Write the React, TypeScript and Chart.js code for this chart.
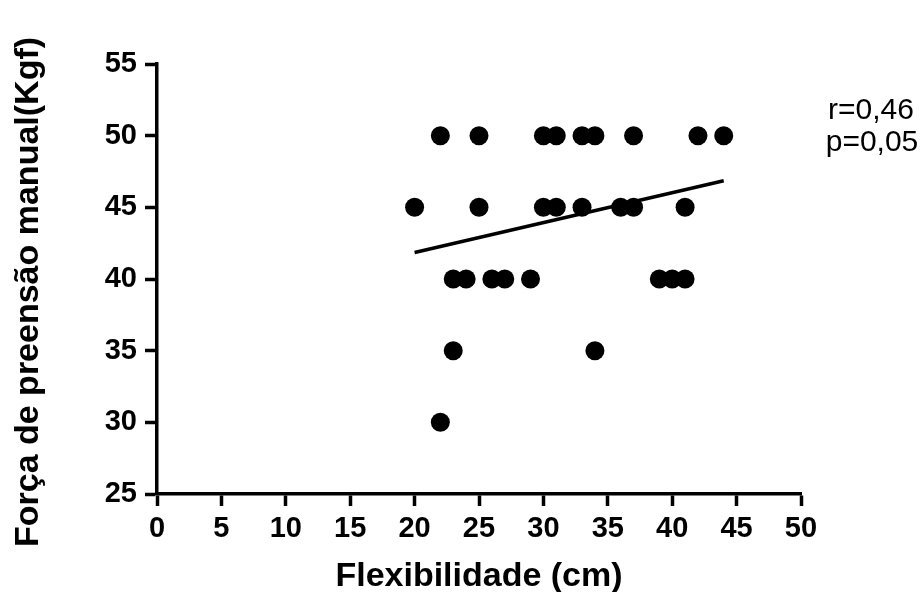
import { useEffect, useRef } from 'react';
import { Chart, registerables } from 'chart.js';

Chart.register(...registerables);

// Flexibility (cm) and hand-grip strength (Kgf) for each subject
const flexibility = [
  22, 25, 30, 31, 33, 34, 37, 42, 44,
  20, 25, 30, 31, 33, 36, 37, 41,
  23, 24, 26, 27, 29, 39, 40, 41,
  23, 34,
  22,
];
const gripStrength = [
  50, 50, 50, 50, 50, 50, 50, 50, 50,
  45, 45, 45, 45, 45, 45, 45, 45,
  40, 40, 40, 40, 40, 40, 40, 40,
  35, 35,
  30,
];

// Regression line end points
const trendX = [20, 44];
const trendY = [41.85, 46.85];

const xTickValues = [0, 5, 10, 15, 20, 25, 30, 35, 40, 45, 50];
const yTickValues = [25, 30, 35, 40, 45, 50, 55];

const xTitle = 'Flexibilidade (cm)';
const yTitle = 'Força de preensão manual(Kgf)';
const statsLines = ['r=0,46', 'p=0,05'];

const FONT = '"Liberation Sans", Arial, Helvetica, sans-serif';

export default function App() {
  const ref = useRef<HTMLCanvasElement | null>(null);

  useEffect(() => {
    if (!ref.current) return;

    const textPlugin = {
      id: 'textPlugin',
      afterDraw(chart: any) {
        const ctx = chart.ctx as CanvasRenderingContext2D;
        const area = chart.chartArea;
        ctx.save();
        ctx.fillStyle = '#000';
        // x title
        ctx.font = `bold 34px ${FONT}`;
        ctx.textAlign = 'center';
        ctx.textBaseline = 'alphabetic';
        ctx.fillText(xTitle, (area.left + area.right) / 2, 586);
        // y title
        ctx.save();
        ctx.translate(38, 292);
        ctx.rotate(-Math.PI / 2);
        ctx.fillText(yTitle, 0, 0);
        ctx.restore();
        // stats
        ctx.font = `30px ${FONT}`;
        ctx.textAlign = 'center';
        ctx.fillText(statsLines[0], 871, 119);
        ctx.fillText(statsLines[1], 872, 151);
        ctx.restore();
      },
    };

    const chart = new Chart(ref.current, {
      type: 'scatter',
      data: {
        datasets: [
          {
            label: 'dados',
            data: flexibility.map((x, i) => ({ x, y: gripStrength[i] })),
            backgroundColor: '#000',
            borderColor: '#000',
            borderWidth: 0,
            pointRadius: 9.5,
            pointHoverRadius: 9.5,
            clip: false as any,
          },
          {
            type: 'line' as any,
            label: 'regressão',
            data: trendX.map((x, i) => ({ x, y: trendY[i] })),
            borderColor: '#000',
            borderWidth: 3.5,
            pointRadius: 0,
            showLine: true,
            fill: false,
          },
        ],
      },
      options: {
        responsive: false,
        animation: false,
        layout: { padding: { top: 64, right: 122, bottom: 0, left: 0 } },
        plugins: {
          legend: { display: false },
          tooltip: { enabled: false },
          title: { display: false },
        },
        scales: {
          x: {
            type: 'linear',
            min: 0,
            max: 50,
            afterBuildTicks: (s: any) => {
              s.ticks = xTickValues.map((v) => ({ value: v }));
            },
            afterFit: (s: any) => {
              s.height = 98;
            },
            border: { display: true, color: '#000', width: 3.5 },
            grid: {
              display: true,
              drawOnChartArea: false,
              drawTicks: true,
              tickLength: 12,
              tickWidth: 3.5,
              tickColor: '#000',
              color: '#000',
            },
            ticks: {
              color: '#000',
              padding: 6,
              font: { family: FONT, size: 29, weight: 'bold' },
            },
          },
          y: {
            type: 'linear',
            min: 25,
            max: 55,
            afterBuildTicks: (s: any) => {
              s.ticks = yTickValues.map((v) => ({ value: v }));
            },
            afterFit: (s: any) => {
              s.width = 157;
            },
            border: { display: true, color: '#000', width: 3.5 },
            grid: {
              display: true,
              drawOnChartArea: false,
              drawTicks: true,
              tickLength: 12,
              tickWidth: 3.5,
              tickColor: '#000',
              color: '#000',
            },
            ticks: {
              color: '#000',
              padding: 8,
              font: { family: FONT, size: 29, weight: 'bold' },
            },
          },
        },
      },
      plugins: [textPlugin],
    } as any);

    return () => chart.destroy();
  }, []);

  return (
    <div style={{ position: 'fixed', left: 0, top: 0, width: 923, height: 592, background: '#fff' }}>
      <canvas ref={ref} width={923} height={592} style={{ display: 'block' }} />
    </div>
  );
}
